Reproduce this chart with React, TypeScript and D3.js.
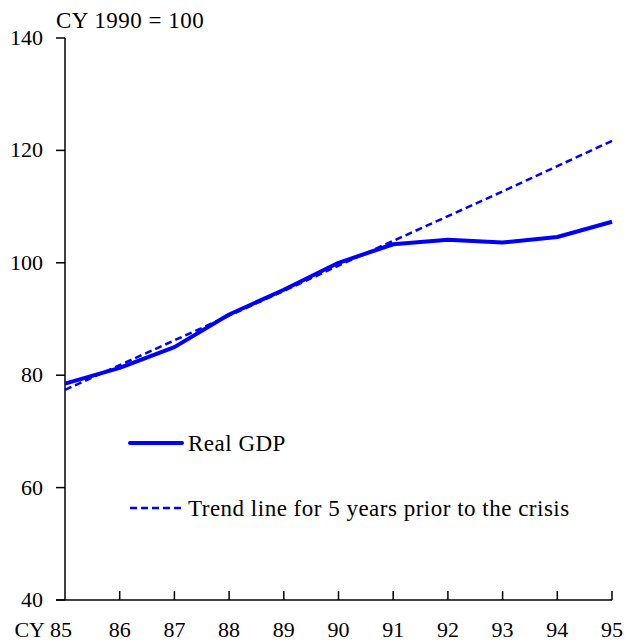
import React from 'react'
import * as d3 from 'd3'

// years shown on the x axis (CY 85 .. 95)
const years = [85, 86, 87, 88, 89, 90, 91, 92, 93, 94, 95]
// Real GDP, CY 1990 = 100
const realGdp = [78.5, 81.3, 85.0, 90.8, 95.2, 100.0, 103.3, 104.1, 103.6, 104.6, 107.3]
// trend line for 5 years prior to the crisis
const trend = [77.4, 81.8, 86.2, 90.6, 95.0, 99.5, 103.9, 108.3, 112.7, 117.2, 121.7]
const yTicks = [40, 60, 80, 100, 120, 140]
const legendLabels = ['Real GDP', 'Trend line for 5 years prior to the crisis']

const W = 625
const H = 643
const FONT = "'Liberation Serif', 'Times New Roman', Times, serif"
const BLUE = '#0000ff'

const num: React.CSSProperties = { fontFamily: FONT, fontSize: '22px' }
const txt: React.CSSProperties = { fontFamily: FONT, fontSize: '23px', letterSpacing: '0.5px' }

const App = () => {
  const x = d3.scaleLinear().domain([85, 95]).range([65, 612])
  const y = d3.scaleLinear().domain([40, 140]).range([600, 38])

  const line = d3.line<number>()
    .x((d, i) => x(years[i]))
    .y(d => y(d))

  return (
    <svg width={W} height={H} style={{ position: 'absolute', left: 0, top: 0, background: '#fff' }}>
      {/* unit note */}
      <text x={56} y={28} style={txt} fill="#000">CY 1990 = 100</text>

      {/* y axis */}
      <line x1={x(85)} x2={x(85)} y1={y(140)} y2={y(40)} stroke="#000" strokeWidth={1.5} />
      {yTicks.map(t => (
        <g key={t}>
          <line x1={x(85) - 9} x2={x(85)} y1={y(t)} y2={y(t)} stroke="#000" strokeWidth={1.5} />
          <text x={43} y={y(t) + 7} style={num} textAnchor="end" fill="#000">{t}</text>
        </g>
      ))}

      {/* x axis */}
      <line x1={x(85) - 9} x2={x(95)} y1={y(40)} y2={y(40)} stroke="#000" strokeWidth={1.5} />
      {years.map(yr => (
        <g key={yr}>
          {yr > 85 && <line x1={x(yr)} x2={x(yr)} y1={y(40)} y2={y(40) - 9} stroke="#000" strokeWidth={1.5} />}
          <text x={x(yr) - (yr === 85 ? 4 : 0)} y={637} style={num} textAnchor="middle" fill="#000">{yr}</text>
        </g>
      ))}
      <text x={x(85) - 20} y={637} style={num} textAnchor="end" fill="#000">CY</text>

      {/* series */}
      <path d={line(trend) ?? ''} fill="none" stroke={BLUE} strokeWidth={2.5} strokeDasharray="7,4" />
      <path d={line(realGdp) ?? ''} fill="none" stroke={BLUE} strokeWidth={4} strokeLinejoin="round" />

      {/* legend */}
      <line x1={130} x2={182} y1={443} y2={443} stroke={BLUE} strokeWidth={4} strokeLinecap="round" />
      <text x={188} y={451} style={txt} fill="#000">{legendLabels[0]}</text>
      <line x1={130} x2={182} y1={508} y2={508} stroke={BLUE} strokeWidth={2.5} strokeDasharray="7,4" />
      <text x={188} y={516} style={txt} fill="#000">{legendLabels[1]}</text>
    </svg>
  )
}

export default App
